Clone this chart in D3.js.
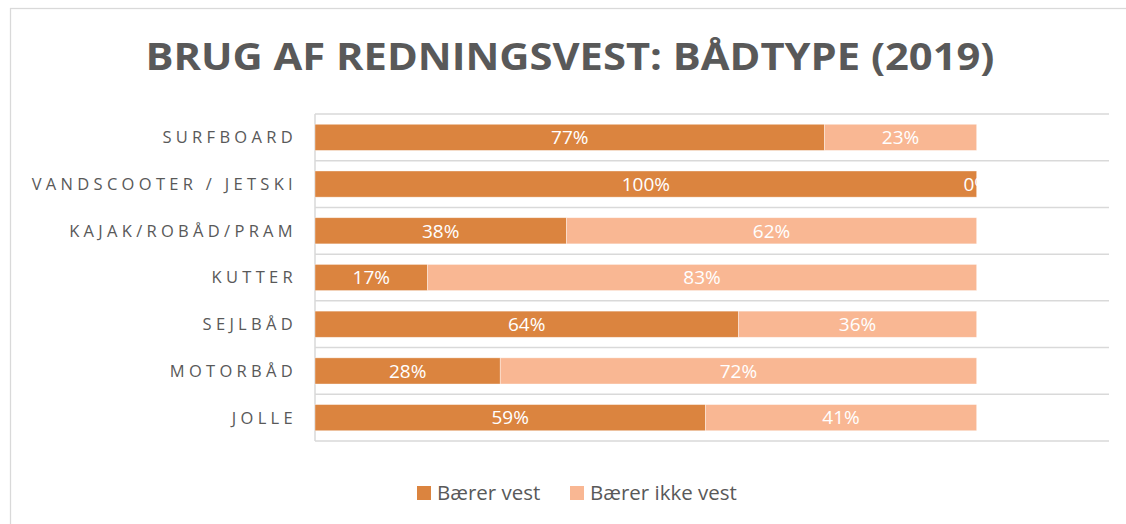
<!DOCTYPE html>
<html>
<head>
<meta charset="utf-8">
<script src="https://cdnjs.cloudflare.com/ajax/libs/d3/7.8.5/d3.min.js"></script>
<style>
  body { margin: 0; background: #fff; }
  svg { display: block; font-family: "Open Sans", sans-serif; }
</style>
</head>
<body>
<svg id="chart" width="1126" height="524"></svg>
<script>
// data
var categories = ['SURFBOARD', 'VANDSCOOTER / JETSKI', 'KAJAK/ROBÅD/PRAM', 'KUTTER', 'SEJLBÅD', 'MOTORBÅD', 'JOLLE'];
var baererVest = [0.77, 1.00, 0.38, 0.17, 0.64, 0.28, 0.59];
var baererIkkeVest = [0.23, 0.00, 0.62, 0.83, 0.36, 0.72, 0.41];
var seriesNames = ['Bærer vest', 'Bærer ikke vest'];
var seriesColors = ['#DB843F', '#F9B793'];
var title = 'BRUG AF REDNINGSVEST: BÅDTYPE (2019)';

var svg = d3.select('#chart');
var grey = '#595959';

// chart frame
svg.append('rect')
  .attr('x', 10.5).attr('y', 8.5)
  .attr('width', 1160).attr('height', 560)
  .attr('fill', 'none')
  .attr('stroke', '#d9d9d9')
  .attr('stroke-width', 1.25);

svg.append('text')
  .attr('x', 570)
  .attr('y', 70)
  .attr('text-anchor', 'middle')
  .attr('textLength', 849)
  .attr('lengthAdjust', 'spacingAndGlyphs')
  .style('font-size', '37px')
  .style('font-weight', 700)
  .style('fill', grey)
  .text(title);

var plot = { left: 315, right: 1109, top: 114, bottom: 441 };

var x = d3.scaleLinear().domain([0, 1.2]).range([plot.left, plot.right]);
var y = d3.scaleBand()
  .domain(categories)
  .range([plot.top, plot.bottom])
  .paddingInner(0.44)
  .paddingOuter(0.22);

// gridlines at category boundaries
var bounds = categories.map(function (c) { return y(c) - y.step() * y.paddingInner() / 2; });
bounds.push(plot.bottom);
svg.append('g').selectAll('line')
  .data(bounds)
  .enter().append('line')
  .attr('x1', plot.left).attr('x2', plot.right)
  .attr('y1', function (d) { return d; })
  .attr('y2', function (d) { return d; })
  .attr('stroke', '#d9d9d9')
  .attr('stroke-width', 1.5);

svg.append('line')
  .attr('x1', plot.left).attr('x2', plot.left)
  .attr('y1', plot.top).attr('y2', plot.bottom)
  .attr('stroke', '#d9d9d9')
  .attr('stroke-width', 1.5);

// stacked rows
var rows = categories.map(function (c, i) {
  return { cat: c, vals: [baererVest[i], baererIkkeVest[i]] };
});

var segs = [];
rows.forEach(function (r) {
  var x0 = 0;
  r.vals.forEach(function (v, k) {
    segs.push({ cat: r.cat, k: k, x0: x0, x1: x0 + v, v: v });
    x0 += v;
  });
});

svg.append('g').selectAll('rect')
  .data(segs)
  .enter().append('rect')
  .attr('x', function (d) { return x(d.x0); })
  .attr('y', function (d) { return y(d.cat); })
  .attr('width', function (d) { return x(d.x1) - x(d.x0); })
  .attr('height', y.bandwidth())
  .attr('fill', function (d) { return seriesColors[d.k]; })
  .attr('stroke', '#fff')
  .attr('stroke-opacity', 0.5)
  .attr('stroke-width', 0.75);

svg.append('g').selectAll('text')
  .data(segs)
  .enter().append('text')
  .attr('x', function (d) { return (x(d.x0) + x(d.x1)) / 2; })
  .attr('y', function (d) { return y(d.cat) + y.bandwidth() / 2; })
  .attr('dy', '0.36em')
  .attr('text-anchor', 'middle')
  .style('font-size', '19px')
  .style('fill', '#fff')
  .text(function (d) { return d3.format('.0%')(d.v); });

// category axis
var axis = svg.append('g')
  .attr('transform', 'translate(' + (plot.left - 18) + ',0)')
  .call(d3.axisLeft(y).tickSize(0).tickPadding(0));
axis.select('.domain').remove();
axis.selectAll('text')
  .style('font-family', '"Open Sans", sans-serif')
  .style('font-size', '16.5px')
  .style('letter-spacing', '4.3px')
  .style('fill', grey)
  .attr('dy', '0.36em');

// legend
var legend = svg.selectAll('.legend')
  .data(seriesNames)
  .enter().append('g')
  .attr('class', 'legend')
  .attr('transform', function (d, i) { return 'translate(' + (i === 0 ? 417 : 570) + ',486)'; });

legend.append('rect')
  .attr('width', 14)
  .attr('height', 14)
  .attr('fill', function (d, i) { return seriesColors[i]; });

legend.append('text')
  .attr('x', 20)
  .attr('y', 7)
  .attr('dy', '0.36em')
  .style('font-size', '20.5px')
  .style('fill', grey)
  .text(function (d) { return d; });
</script>
</body>
</html>
